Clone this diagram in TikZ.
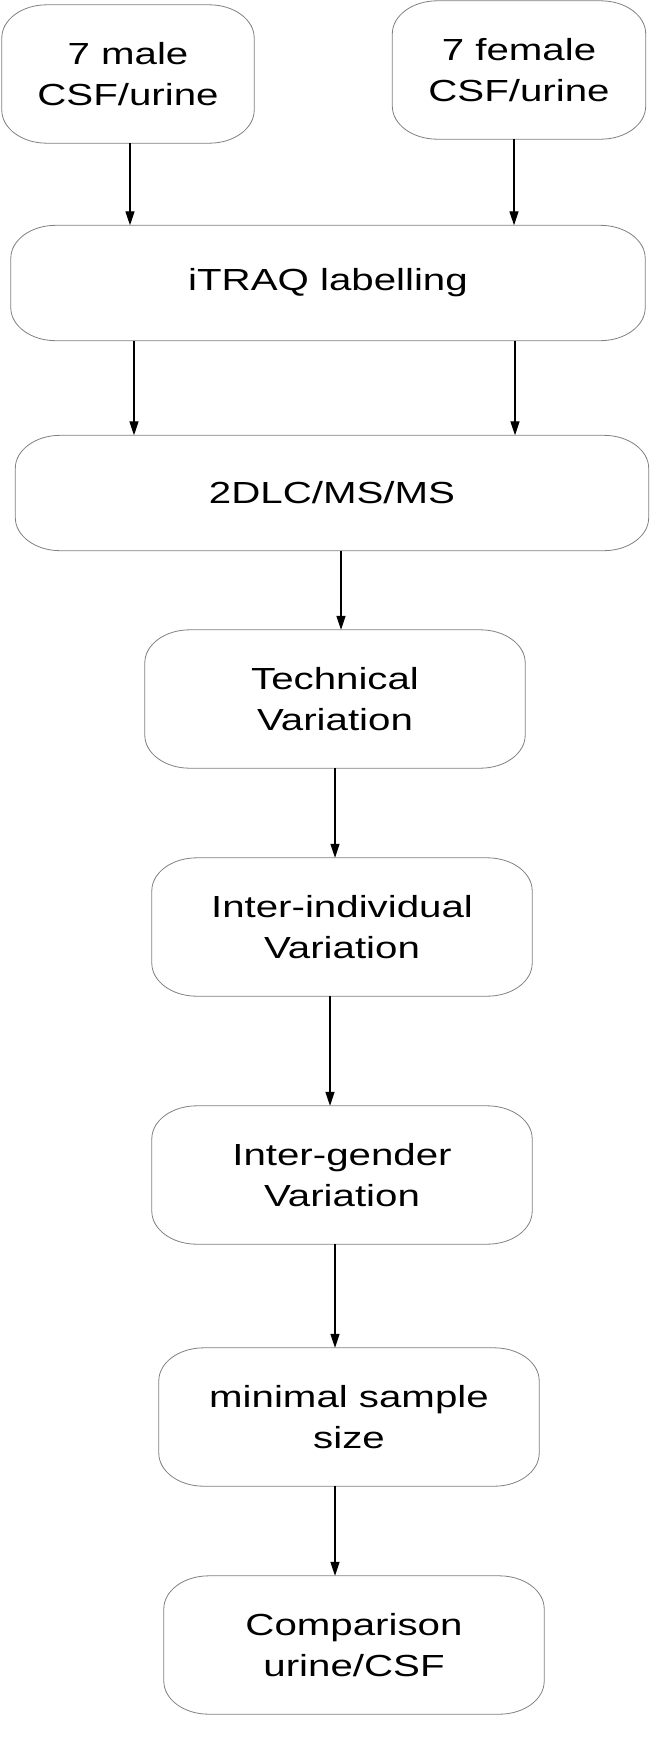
\documentclass[tikz,border=0pt]{standalone}
\usepackage{fontspec}
\setmainfont{Liberation Sans}[FakeStretch=1.32]
\usetikzlibrary{arrows.meta,calc,positioning}

\begin{document}
\begin{tikzpicture}[x=1bp, y=-1bp,
 box/.style={align=center, inner sep=0pt, minimum width=380bp, minimum height=138bp,
  font=\fontsize{30.5bp}{40.7bp}\selectfont},
 wide/.style={box, minimum width=634bp, minimum height=115bp},
 outline/.style={draw=black!50, line width=0.8bp},
 flow/.style={-{Triangle[length=14bp,width=9bp]}, line width=1.3bp, black}]

\useasboundingbox (0,0) rectangle (651,1748);

\node[box, minimum width=252bp] (male) at (128,74) {7 male\\CSF/urine};
\node[box, minimum width=253bp] (female) at (519,70) {7 female\\CSF/urine};
\node[wide] (itraq) at (328,283) {iTRAQ labelling};
\node[wide, minimum width=633bp] (lcms) at (332,493) {2DLC/MS/MS};
\node[box] (tech) at (335,699) {Technical\\Variation};
\node[box] (indiv) at (342,927) {Inter-individual\\Variation};
\node[box] (gender) at (342,1175) {Inter-gender\\Variation};
\node[box] (minsize) at (349,1417) {minimal sample\\size};
\node[box] (compare) at (354,1645) {Comparison\\urine/CSF};

% rounded outlines, corners wider than tall
\foreach \n in {male,female,itraq,lcms,tech,indiv,gender,minsize,compare}
  \draw[outline] ([xshift=45bp]\n.north west) -- ([xshift=-45bp]\n.north east)
    arc[start angle=90, end angle=0, x radius=45bp, y radius=33bp]
    -- ([yshift=33bp]\n.south east)
    arc[start angle=0, end angle=-90, x radius=45bp, y radius=33bp]
    -- ([xshift=45bp]\n.south west)
    arc[start angle=-90, end angle=-180, x radius=45bp, y radius=33bp]
    -- ([yshift=-33bp]\n.north west)
    arc[start angle=180, end angle=90, x radius=45bp, y radius=33bp] -- cycle;

\draw[flow] ([xshift=2bp]male.south) -- ([xshift=2bp]male.south |- itraq.north);
\draw[flow] ([xshift=-5bp]female.south) -- ([xshift=-5bp]female.south |- itraq.north);
\draw[flow] ([xshift=6bp]male.south |- itraq.south) -- ([xshift=6bp]male.south |- lcms.north);
\draw[flow] ([xshift=-4bp]female.south |- itraq.south) -- ([xshift=-4bp]female.south |- lcms.north);
\draw[flow] ([xshift=6bp]tech.north |- lcms.south) -- ([xshift=6bp]tech.north);
\draw[flow] (tech.south) -- (tech.south |- indiv.north);
\draw[flow] ([xshift=-12bp]indiv.south) -- ([xshift=-12bp]indiv.south |- gender.north);
\draw[flow] ([xshift=-7bp]gender.south) -- ([xshift=-7bp]gender.south |- minsize.north);
\draw[flow] ([xshift=-14bp]minsize.south) -- ([xshift=-14bp]minsize.south |- compare.north);
\end{tikzpicture}
\end{document}
